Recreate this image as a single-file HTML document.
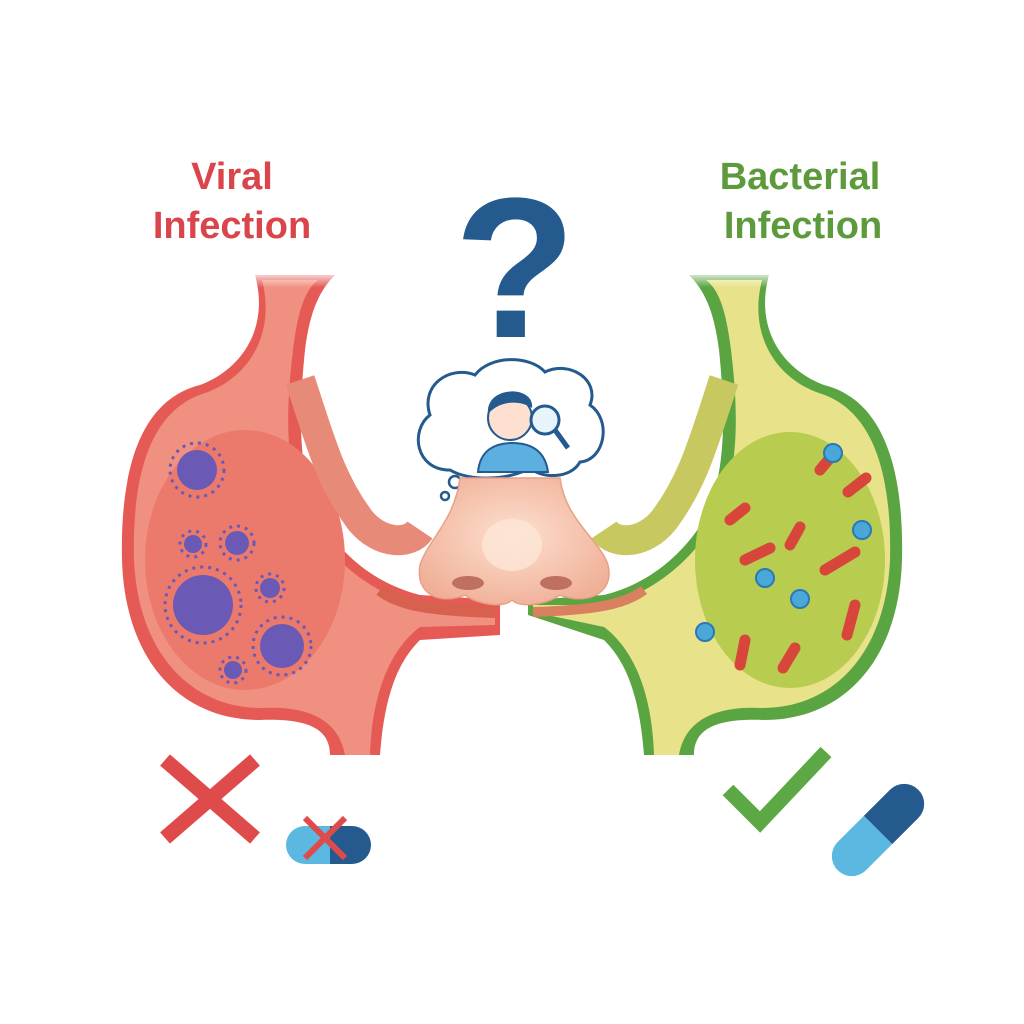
<!DOCTYPE html>
<html><head><meta charset="utf-8"><style>
html,body{margin:0;padding:0;background:#fff;}
svg{display:block}
text{font-family:"Liberation Sans",sans-serif;font-weight:bold}
</style></head><body>
<svg width="1024" height="1024" viewBox="0 0 1024 1024" xmlns="http://www.w3.org/2000/svg">
<defs>
<linearGradient id="fadeL" x1="0" y1="0" x2="0" y2="1"><stop offset="0" stop-color="#fff" stop-opacity="1"/><stop offset="0.25" stop-color="#fff" stop-opacity="0"/></linearGradient>
<radialGradient id="nose" cx="0.5" cy="0.45" r="0.6"><stop offset="0" stop-color="#fde0cf"/><stop offset="1" stop-color="#f0b098"/></radialGradient>
</defs>
<rect width="1024" height="1024" fill="#fff"/>
<text x="232" y="189" font-size="38" fill="#d9454a" text-anchor="middle">Viral</text>
<text x="232" y="238" font-size="38" fill="#d9454a" text-anchor="middle">Infection</text>
<text x="800" y="189" font-size="38" fill="#5c9a3c" text-anchor="middle">Bacterial</text>
<text x="803" y="238" font-size="38" fill="#5c9a3c" text-anchor="middle">Infection</text>
<text x="515" y="337" font-size="200" fill="#245a8e" text-anchor="middle">?</text>

<!-- left organ -->
<path d="M255 275 C270 330 240 370 200 385 C140 400 120 470 122 560 C125 660 180 720 260 720 C310 718 330 730 330 755 L380 755 C385 690 400 660 420 640 L500 635 L500 600 L420 595 C380 585 345 560 320 520 C295 470 300 400 305 350 C310 310 320 290 335 275 Z" fill="#e55a55"/>
<path d="M262 280 C276 335 248 378 205 393 C150 410 132 475 134 560 C138 650 188 708 262 708 C300 706 338 715 345 755 L370 755 C372 690 392 648 420 627 L495 625 L495 610 L420 605 C375 595 335 565 308 520 C282 470 287 400 293 350 C298 310 305 290 318 280 Z" fill="#f09080"/>
<ellipse cx="245" cy="560" rx="100" ry="130" fill="#ec7a6c"/>
<path d="M300 380 C320 440 330 480 360 520 C380 545 410 545 420 530" stroke="#e88a78" stroke-width="30" fill="none"/>
<path d="M380 590 C400 605 430 610 495 612" stroke="#d8604e" stroke-width="12" fill="none"/>
<rect x="200" y="270" width="150" height="70" fill="url(#fadeL)"/>
<g fill="#6a5ab5">
<circle cx="197" cy="470" r="20"/><circle cx="203" cy="605" r="30"/><circle cx="282" cy="646" r="22"/>
<circle cx="237" cy="543" r="12"/><circle cx="193" cy="544" r="9"/><circle cx="270" cy="588" r="10"/><circle cx="233" cy="670" r="9"/>
</g>
<g stroke="#6a5ab5" stroke-width="3" stroke-dasharray="3 5" fill="none">
<circle cx="197" cy="470" r="27"/><circle cx="203" cy="605" r="38"/><circle cx="282" cy="646" r="29"/>
<circle cx="237" cy="543" r="17"/><circle cx="193" cy="544" r="13"/><circle cx="270" cy="588" r="14"/><circle cx="233" cy="670" r="13"/>
</g>

<!-- right organ -->
<path d="M769 275 C754 330 784 370 824 385 C884 400 904 470 902 560 C899 660 844 720 764 720 C714 718 694 730 694 755 L644 755 C639 690 624 660 604 640 L528 615 L528 600 L604 595 C644 585 679 560 704 520 C729 470 724 400 719 350 C714 310 704 290 689 275 Z" fill="#5aa542"/>
<path d="M762 280 C748 335 776 378 819 393 C874 410 892 475 890 560 C886 650 836 708 762 708 C724 706 686 715 679 755 L654 755 C652 690 632 648 604 627 L533 612 L533 605 L604 605 C649 595 689 565 716 520 C742 470 737 400 731 350 C726 310 719 290 706 280 Z" fill="#e8e28a"/>
<ellipse cx="790" cy="560" rx="95" ry="128" fill="#b8cc50"/>
<path d="M724 380 C704 440 694 480 664 520 C644 545 614 545 604 530" stroke="#c8c860" stroke-width="30" fill="none"/>
<path d="M644 590 C624 605 594 610 533 612" stroke="#d88060" stroke-width="10" fill="none"/>
<rect x="674" y="270" width="150" height="70" fill="url(#fadeL)"/>
<g stroke="#d8453a" stroke-width="11" stroke-linecap="round" fill="none">
<path d="M820 470 l15 -18"/><path d="M848 492 l18 -14"/><path d="M745 560 l25 -12"/><path d="M790 545 l10 -18"/>
<path d="M825 570 l30 -18"/><path d="M855 605 l-8 30"/><path d="M745 640 l-5 25"/><path d="M795 648 l-12 20"/><path d="M730 520 l15 -12"/>
</g>
<g fill="#4aa8d8" stroke="#2a78b8" stroke-width="2">
<circle cx="833" cy="453" r="9"/><circle cx="862" cy="530" r="9"/><circle cx="765" cy="578" r="9"/><circle cx="800" cy="599" r="9"/><circle cx="705" cy="632" r="9"/>
</g>

<!-- thought cloud -->
<path d="M450 470 C415 470 410 430 430 415 C420 385 450 365 475 375 C490 355 530 355 545 372 C570 360 600 380 590 405 C612 420 605 460 580 462 C570 480 540 478 530 468 C510 480 470 482 450 470 Z" fill="#fff" stroke="#245a8e" stroke-width="3"/>
<circle cx="455" cy="482" r="6" fill="#fff" stroke="#245a8e" stroke-width="2.5"/>
<circle cx="445" cy="496" r="4" fill="#fff" stroke="#245a8e" stroke-width="2.5"/>
<path d="M478 472 C480 450 495 443 512 443 C530 443 545 450 548 472 Z" fill="#5bb0e0" stroke="#245a8e" stroke-width="2"/>
<circle cx="510" cy="418" r="22" fill="#fde0cf" stroke="#245a8e" stroke-width="2"/>
<path d="M488 414 C485 385 535 385 532 408 C520 400 500 400 488 414 Z" fill="#245a8e"/>
<circle cx="545" cy="420" r="14" fill="#e8f4fb" stroke="#245a8e" stroke-width="3"/>
<line x1="555" y1="430" x2="568" y2="448" stroke="#245a8e" stroke-width="5"/>

<!-- nose -->
<path d="M460 478 L560 478 C565 520 600 540 608 565 C615 595 585 605 560 595 C545 605 520 608 512 600 C505 608 478 605 465 595 C440 605 415 595 420 565 C428 540 455 520 460 478 Z" fill="url(#nose)" stroke="#e8a088" stroke-width="1.5"/>
<ellipse cx="468" cy="583" rx="16" ry="7" fill="#c07060"/>
<ellipse cx="556" cy="583" rx="16" ry="7" fill="#c07060"/>
<ellipse cx="512" cy="545" rx="30" ry="26" fill="#fde6d6" opacity="0.8"/>

<!-- X and capsule -->
<g stroke="#df4b4b" stroke-width="15" stroke-linecap="butt">
<line x1="165" y1="760" x2="255" y2="838"/><line x1="255" y1="760" x2="165" y2="838"/>
</g>
<path d="M305 826 L330 826 L330 864 L305 864 A19 19 0 0 1 305 826 Z" fill="#5bb8e0"/>
<path d="M330 826 L352 826 A19 19 0 0 1 352 864 L330 864 Z" fill="#245a8e"/>
<g stroke="#df4b4b" stroke-width="6"><line x1="305" y1="818" x2="345" y2="858"/><line x1="345" y1="818" x2="305" y2="858"/></g>
<polyline points="728,790 760,822 826,752" fill="none" stroke="#5ca845" stroke-width="15"/>
<g transform="rotate(-45 878 830)">
<path d="M878 810 L915 810 A20 20 0 0 1 915 850 L878 850 Z" fill="#245a8e"/>
<path d="M878 810 L878 850 L841 850 A20 20 0 0 1 841 810 Z" fill="#5bb8e0"/>
</g>
</svg>
</body></html>
